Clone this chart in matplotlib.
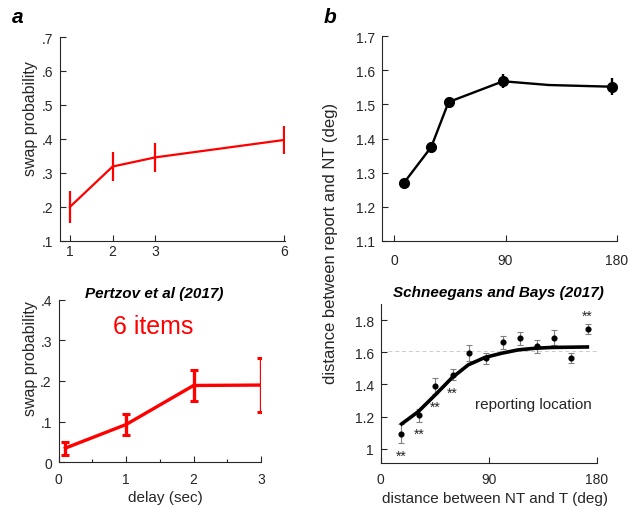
import matplotlib
matplotlib.use("Agg")
import matplotlib.pyplot as plt
from matplotlib.ticker import FuncFormatter, MultipleLocator

plt.rcParams['font.family'] = ['Liberation Sans', 'DejaVu Sans']

# ---------------- data ----------------
# panel a, top: swap probability vs set size
setsize = [1, 2, 3, 6]
swap_ss = [0.200, 0.319, 0.346, 0.397]
swap_ss_err = [0.046, 0.043, 0.043, 0.042]

# panel a, bottom: swap probability vs delay (Pertzov et al 2017)
delay = [0.1, 1, 2, 3]
swap_delay = [0.035, 0.093, 0.189, 0.190]
swap_delay_err = [0.016, 0.026, 0.039, 0.066]

# panel b, top: distance between report and NT vs NT-T distance
ntdist_top = [8, 30, 44, 88, 176]
rep_nt_top = [1.270, 1.375, 1.507, 1.568, 1.552]
rep_nt_top_err = [0.010, 0.013, 0.015, 0.020, 0.025]
line_x_top = [8, 30, 44, 88, 125, 176]
line_y_top = [1.270, 1.375, 1.507, 1.568, 1.557, 1.552]

# panel b, bottom: Schneegans and Bays (2017)
ntdist_bot = [17.2, 31.7, 45.6, 60.0, 73.6, 87.8, 101.7, 116.0, 130.3, 144.4, 158.3, 172.5]
rep_nt_bot = [1.095, 1.209, 1.389, 1.461, 1.593, 1.562, 1.661, 1.686, 1.637, 1.690, 1.566, 1.744]
rep_nt_bot_err = [0.060, 0.040, 0.050, 0.032, 0.050, 0.035, 0.040, 0.040, 0.040, 0.046, 0.030, 0.032]
fit_x = [17.5, 31.3, 45.3, 59.2, 73.0, 86.9, 100.8, 114.7, 128.6, 142.5, 172.2]
fit_y = [1.155, 1.231, 1.334, 1.440, 1.522, 1.568, 1.594, 1.615, 1.625, 1.630, 1.633]
sig_idx_below = [0, 1, 2, 3]
sig_idx_above = [11]
baseline = 1.607

# ---------------- figure ----------------
W, H = 629, 510
fig = plt.figure(figsize=(W / 100, H / 100), dpi=100)

def ax_at(x0, y0, x1, y1):
    return fig.add_axes([x0 / W, 1 - y1 / H, (x1 - x0) / W, (y1 - y0) / H])

def ftext(x, y, s, **kw):
    return fig.text(x / W, 1 - y / H, s, **kw)

AXC = '#262626'
def style(ax):
    for s in ['top', 'right']:
        ax.spines[s].set_visible(False)
    for s in ['left', 'bottom']:
        ax.spines[s].set_color(AXC)
        ax.spines[s].set_linewidth(0.8)
    ax.tick_params(direction='in', length=4, width=0.8, colors=AXC,
                   labelsize=10, pad=4)
    ax.tick_params(which='minor', direction='in', length=2.5, width=0.8, colors=AXC)
    ax.tick_params(axis='y', pad=5)

def dotfmt(v, pos):
    s = '%g' % round(v, 3)
    if s.startswith('0.'):
        s = s[1:]
    return s

RED = '#ff0000'

# --- top-left
ax1 = ax_at(60, 38, 285, 242)
style(ax1)
ax1.errorbar(setsize, swap_ss, yerr=swap_ss_err, color=RED, lw=1.6,
             elinewidth=1.6, capsize=0)
ax1.set_xlim(0.77, 6.03)
ax1.set_ylim(0.1, 0.7)
ax1.set_xticks(setsize)
ax1.set_yticks([0.1, 0.2, 0.3, 0.4, 0.5, 0.6, 0.7])
ax1.yaxis.set_major_formatter(FuncFormatter(dotfmt))
ax1.tick_params(axis='x', pad=2)
ftext(31, 118.5, 'swap probability', rotation=90, fontsize=11.5, color=AXC,
      ha='center', va='center')

# --- bottom-left
ax2 = ax_at(58.7, 300.7, 261, 463.3)
style(ax2)
ax2.errorbar(delay, swap_delay, yerr=swap_delay_err, color=RED, lw=2.4,
             elinewidth=2.4, capsize=3, capthick=2.2)
ax2.set_xlim(0, 3)
ax2.set_ylim(0, 0.4)
ax2.set_xticks([0, 1, 2, 3])
ax2.xaxis.set_minor_locator(MultipleLocator(0.5))
ax2.set_yticks([0, 0.1, 0.2, 0.3, 0.4])
ax2.yaxis.set_major_formatter(FuncFormatter(dotfmt))
ax2.tick_params(axis='x', pad=7)
ftext(31, 358.7, 'swap probability', rotation=90, fontsize=11.5, color=AXC,
      ha='center', va='center')
ftext(165, 498, 'delay (sec)', fontsize=11, color=AXC, ha='center', va='center')
ftext(153.8, 294, 'Pertzov et al (2017)', fontsize=11, fontweight='bold',
      style='italic', color='black', ha='center', va='center')
ftext(153, 327, '6 items', color=RED, fontsize=18, ha='center', va='center')

# --- top-right
ax3 = ax_at(381.7, 37.3, 617, 241.7)
style(ax3)
ax3.plot(line_x_top, line_y_top, color='black', lw=1.7)
ax3.errorbar(ntdist_top, rep_nt_top, yerr=rep_nt_top_err, fmt='o', color='black',
             ms=7, elinewidth=1.7, capsize=0)
ax3.set_xlim(-10, 180)
ax3.set_ylim(1.1, 1.7)
ax3.set_xticks([0, 90, 180])
ax3.set_yticks([1.1, 1.2, 1.3, 1.4, 1.5, 1.6, 1.7])
ax3.yaxis.set_major_formatter(FuncFormatter(dotfmt))
ax3.tick_params(axis='x', pad=9)

# --- bottom-right
ax4 = ax_at(380.7, 305, 596.7, 464.3)
style(ax4)
ax4.plot([6, 180], [baseline, baseline], color='#cccccc', lw=0.7,
         ls=(0, (4, 3)), zorder=0)
ax4.errorbar(ntdist_bot, rep_nt_bot, yerr=rep_nt_bot_err, fmt='none',
             ecolor='#808080', elinewidth=0.8, capsize=2, capthick=0.8)
ax4.plot(fit_x, fit_y, color='black', lw=2.6, zorder=3)
ax4.plot(ntdist_bot, rep_nt_bot, 'o', color='black', ms=3.4, zorder=4)
for i in sig_idx_below:
    ax4.annotate('**', (ntdist_bot[i], rep_nt_bot[i] - rep_nt_bot_err[i]),
                 xytext=(0, -4), textcoords='offset points', ha='center',
                 va='top', fontsize=10, color=AXC)
for i in sig_idx_above:
    ax4.annotate('**', (ntdist_bot[i], rep_nt_bot[i] + rep_nt_bot_err[i]),
                 xytext=(0, 1), textcoords='offset points', ha='center',
                 va='bottom', fontsize=10, color=AXC)
ax4.text(127, 1.28, 'reporting location', fontsize=11, color=AXC,
         ha='center', va='center')
ax4.set_xlim(0, 180)
ax4.set_ylim(0.91, 1.9)
ax4.set_xticks([0, 90, 180])
ax4.set_yticks([1.0, 1.2, 1.4, 1.6, 1.8])
ax4.yaxis.set_major_formatter(FuncFormatter(lambda v, p: '%g' % round(v, 3)))
ax4.tick_params(axis='x', pad=6)
ftext(495, 499, 'distance between NT and T (deg)', fontsize=11, color=AXC,
      ha='center', va='center')
ftext(498.7, 293.3, 'Schneegans and Bays (2017)', fontsize=11, fontweight='bold',
      style='italic', color='black', ha='center', va='center')

# shared y label for panel b
ftext(331, 243, 'distance between report and NT (deg)', rotation=90,
      fontsize=12, color=AXC, ha='center', va='center')

# panel letters
ftext(12, 23, 'a', fontsize=15, fontweight='bold', style='italic',
      ha='left', va='baseline')
ftext(324, 23, 'b', fontsize=15, fontweight='bold', style='italic',
      ha='left', va='baseline')

fig.savefig('out.png', dpi=100)
